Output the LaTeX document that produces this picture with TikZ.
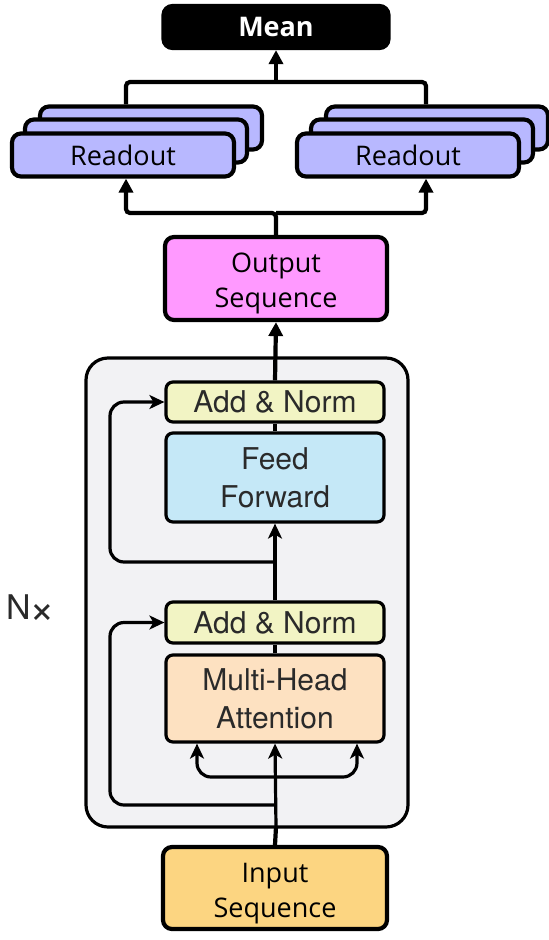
\documentclass[tikz,border=0pt]{standalone}
\usepackage{fontspec}
\setmainfont{Open Sans}
\newfontfamily\helv{TeX Gyre Heros}
\usetikzlibrary{arrows.meta,calc}
\definecolor{blockgray}{HTML}{F2F2F4}
\definecolor{addnorm}{HTML}{F2F4C4}
\definecolor{ffblue}{HTML}{C5E8F7}
\definecolor{mhaorange}{HTML}{FDE1C1}
\definecolor{outpink}{HTML}{FF99FF}
\definecolor{inyellow}{HTML}{FCD581}
\definecolor{readblue}{HTML}{B8B8FF}
\definecolor{textgray}{HTML}{2A2A2A}
\newcommand{\twolines}[2]{\raisebox{-4.5pt}[\height][\depth]{\begin{tabular}{@{}c@{}}#1\\#2\end{tabular}}}
\tikzset{
  bigbox/.style={draw=black, line width=4.2pt, rounded corners=9pt, inner sep=0pt,
    font=\fontsize{27}{35}\selectfont, align=center},
  readbox/.style={bigbox, fill=readblue, minimum width=222pt, minimum height=43pt},
  tbox/.style={draw=black, line width=3.2pt, rounded corners=7pt, inner sep=0pt,
    font=\helv\fontsize{30}{38}\selectfont, text=textgray, align=center,
    minimum width=218pt},
  thickline/.style={line width=4.2pt, rounded corners=4pt},
  conn/.style={thickline, -{Triangle[length=14pt,width=14pt]}},
  tline/.style={line width=3.2pt, rounded corners=14pt},
  tconn/.style={tline, -{Stealth[length=15pt,width=14pt,inset=4pt]}},
}
\begin{document}
\begin{tikzpicture}[x=1pt,y=-1pt]
\useasboundingbox (0,0) rectangle (549,940);
% Transformer block background
\draw[line width=3.2pt, fill=blockgray, rounded corners=22pt] (86,358) rectangle (408,827);
\node[font=\helv\fontsize{34}{34}\selectfont, text=textgray] (nx) at (31,609) {N\kern-1pt\raisebox{-4pt}{\fontsize{44}{44}\selectfont ×}};

% Top boxes
\node[bigbox, fill=black, text=white, font=\bfseries\fontsize{27}{35}\selectfont,
      minimum width=225pt, minimum height=42pt] (mean) at (276,27) {Mean};

\node[readbox] (rl3) at (151,128) {};
\node[readbox] (rl2) at (136,141) {};
\node[readbox] (rl) at (123,155) {Readout};
\node[readbox] (rr3) at (437,128) {};
\node[readbox] (rr2) at (422,141) {};
\node[readbox] (rr) at (408,155) {Readout};

\node[bigbox, fill=outpink, minimum width=222pt, minimum height=83pt] (out) at (276,278.5) {\twolines{Output}{Sequence}};
\node[bigbox, fill=inyellow, minimum width=224pt, minimum height=82pt] (in) at (275,888) {\twolines{Input}{Sequence}};

% Transformer inner boxes
\node[tbox, fill=addnorm, minimum height=40pt] (an2) at (275,402) {Add \& Norm};
\node[tbox, fill=ffblue, minimum height=89pt] (ff) at (275,477.5) {Feed\\Forward};
\node[tbox, fill=addnorm, minimum height=41pt] (an1) at (275,622.5) {Add \& Norm};
\node[tbox, fill=mhaorange, minimum height=87pt] (mha) at (275,698.5) {Multi-Head\\Attention};

% Coordinates
\coordinate (bl) at (126,82);
\coordinate (br) at (426,82);
\coordinate (bm) at (276,82);
\coordinate (sl) at (126,213);
\coordinate (sr) at (426,213);
\coordinate (sm) at (276,213);
\coordinate (bbot) at (276,827);
\coordinate (r2) at (276,562);
\coordinate (r2c) at (110,562);
\coordinate (r1) at (276,805);
\coordinate (r1c) at (110,805);
\coordinate (att) at (276,777);
\coordinate (al) at (197,777);
\coordinate (ar) at (357,777);

% Top connectors
\draw[thickline] (bl |- rl3.north) -- (bl) -- (br) -- (br |- rr3.north);
\draw[conn] (bm) -- (mean.south);
\draw[conn] (out.north) -- (sm) -- (sl) -- (sl |- rl.south);
\draw[conn] (sm) -- (sr) -- (sr |- rr.south);

% Transformer connectors
\draw[line width=4.2pt] (in.north) -- (bbot);
\draw[tconn] (bbot) -- (mha.south);
\draw[tconn] (att) -- (al) -- (al |- mha.south);
\draw[tconn] (att) -- (ar) -- (ar |- mha.south);
\draw[tline] (mha.north) -- (an1.south);
\draw[tconn] (an1.north) -- (ff.south);
\draw[tline] (ff.north) -- (an2.south);
\draw[conn] (an2.north) -- (out.south);
\draw[tconn] (r2) -- (r2c) -- (r2c |- an2.west) -- (an2.west);
\draw[tconn] (r1) -- (r1c) -- (r1c |- an1.west) -- (an1.west);
\end{tikzpicture}
\end{document}
